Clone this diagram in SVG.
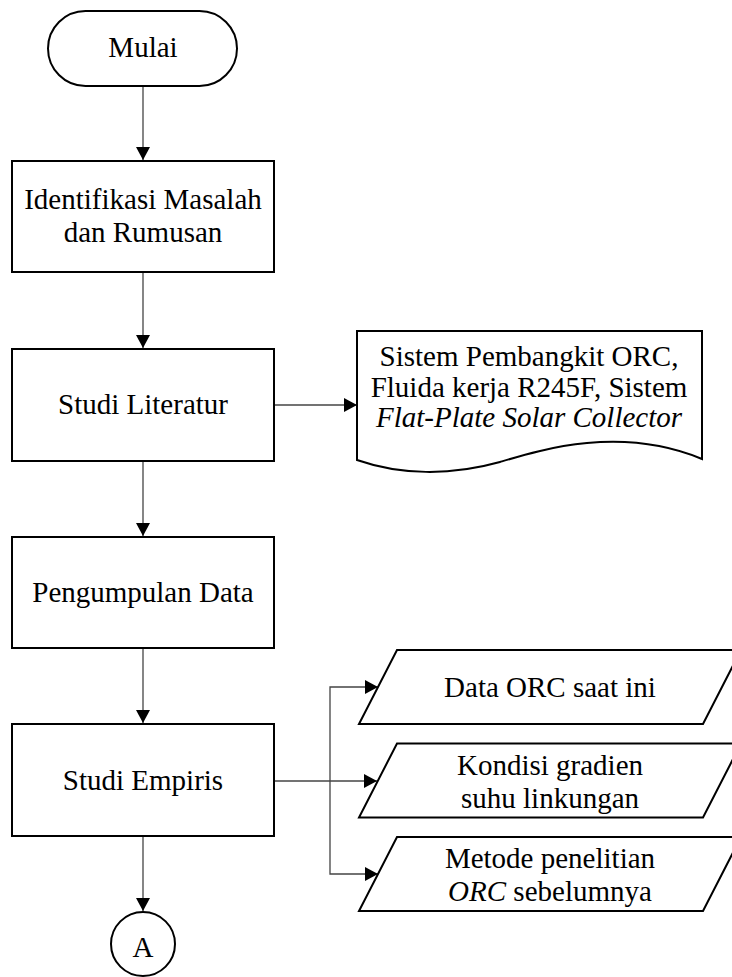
<svg xmlns="http://www.w3.org/2000/svg" width="732" height="977" viewBox="0 0 732 977">
<style>
.s{fill:#fff;stroke:#000;stroke-width:2}
.t{font-family:"Liberation Serif","Times New Roman",serif;font-size:29px;fill:#000;text-anchor:middle}
.c{fill:none;stroke:#444;stroke-width:1.3}
</style>
<defs>
<marker id="ar" markerUnits="userSpaceOnUse" markerWidth="14" markerHeight="14" refX="13" refY="7" orient="auto">
<path d="M0,0 L13,7 L0,14 Z" fill="#000"/>
</marker>
</defs>
<rect width="732" height="977" fill="#fff"/>
<g id="connectors">
<line class="c" x1="143" y1="86" x2="143" y2="160" marker-end="url(#ar)"/>
<line class="c" x1="143" y1="272" x2="143" y2="348" marker-end="url(#ar)"/>
<line class="c" x1="143" y1="461" x2="143" y2="536" marker-end="url(#ar)"/>
<line class="c" x1="143" y1="648" x2="143" y2="723" marker-end="url(#ar)"/>
<line class="c" x1="143" y1="836" x2="143" y2="911" marker-end="url(#ar)"/>
<line class="c" x1="274" y1="405" x2="357" y2="405" marker-end="url(#ar)"/>
<line class="c" x1="274" y1="781" x2="377" y2="781" marker-end="url(#ar)"/>
<polyline class="c" points="330,781 330,687 378,687" marker-end="url(#ar)"/>
<polyline class="c" points="330,781 330,874 378,874" marker-end="url(#ar)"/>
</g>
<g id="mulai">
<rect class="s" x="48" y="11" width="189" height="75" rx="37.5"/>
<text class="t" x="143" y="57">Mulai</text>
</g>
<g id="identifikasi">
<rect class="s" x="12" y="161" width="262" height="111"/>
<text class="t" x="143" y="209">Identifikasi Masalah</text>
<text class="t" x="143" y="242">dan Rumusan</text>
</g>
<g id="studi-literatur">
<rect class="s" x="12" y="349" width="262" height="112"/>
<text class="t" x="143" y="414">Studi Literatur</text>
</g>
<g id="dokumen">
<path class="s" d="M357,331 H702 V459 C620,425 540,450 500,462 C450,476 400,475 357,460 Z"/>
<text class="t" x="529" y="366">Sistem Pembangkit ORC,</text>
<text class="t" x="529" y="397">Fluida kerja R245F, Sistem</text>
<text class="t" x="529" y="427" font-style="italic">Flat-Plate Solar Collector</text>
</g>
<g id="pengumpulan">
<rect class="s" x="12" y="537" width="262" height="111"/>
<text class="t" x="143" y="602">Pengumpulan Data</text>
</g>
<g id="studi-empiris">
<rect class="s" x="12" y="724" width="262" height="112"/>
<text class="t" x="143" y="790">Studi Empiris</text>
</g>
<g id="data-orc">
<polygon class="s" points="397,650 741,650 703,724 359,724"/>
<text class="t" x="550" y="697">Data ORC saat ini</text>
</g>
<g id="kondisi">
<polygon class="s" points="397,743.5 741,743.5 703,817.5 359,817.5"/>
<text class="t" x="550" y="775">Kondisi gradien</text>
<text class="t" x="550" y="808">suhu linkungan</text>
</g>
<g id="metode">
<polygon class="s" points="397,837 741,837 703,911 359,911"/>
<text class="t" x="550" y="868">Metode penelitian</text>
<text class="t" x="550" y="901"><tspan font-style="italic">ORC</tspan> sebelumnya</text>
</g>
<g id="konektor-a">
<circle class="s" cx="143" cy="944" r="32"/>
<text class="t" x="143" y="957">A</text>
</g>
</svg>
